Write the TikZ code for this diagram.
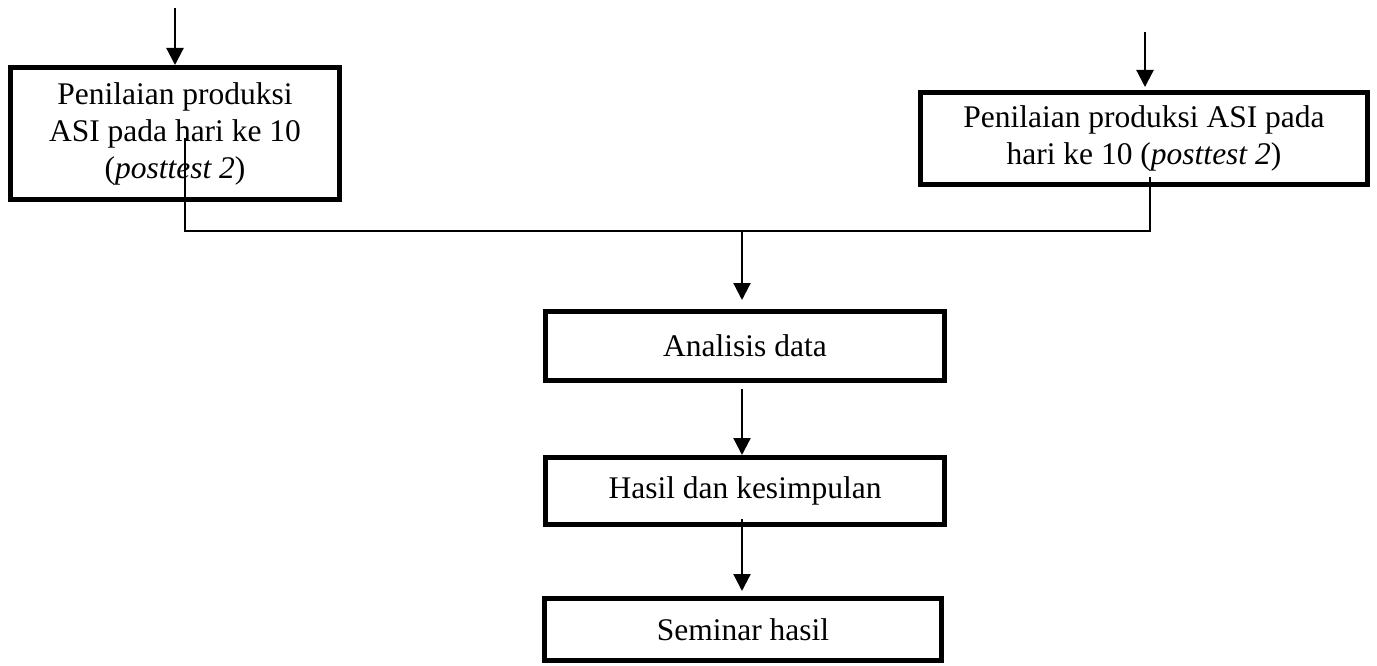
\documentclass[tikz,border=0pt]{standalone}
\usepackage{fontspec}
\setmainfont{Liberation Serif}
\usepackage{tikz}
\usetikzlibrary{positioning}
\usetikzlibrary{arrows.meta}
\tikzset{
    stepbox/.style = {rectangle, draw=black, line width=5pt, inner sep=0pt, align=center, font=\fontsize{31.5}{37}\selectfont},
    edgen/.style = {-{Triangle[length=17pt,width=17pt]}, line width=2.2pt},
    edgel/.style = {line width=1.8pt}
}
\begin{document}
\begin{tikzpicture}[x=1pt,y=1pt]
\useasboundingbox (0,0) rectangle (1377,-666);
%
\node[stepbox, minimum width=329pt, minimum height=132pt] at (175,-133.5) (pl) {Penilaian produksi\\ASI pada hari ke 10\\(\textit{posttest 2})};
\node[stepbox, minimum width=447pt, minimum height=92pt] at (1144,-138.5) (pr) {Penilaian produksi ASI pada\\hari ke 10 (\textit{posttest 2})};
\node[stepbox, minimum width=399pt, minimum height=69pt] at (745,-346) (ad) {Analisis data};
\node[stepbox, minimum width=399pt, minimum height=67pt] at (745,-491) (hk) {Hasil dan kesimpulan};
\node[stepbox, minimum width=397pt, minimum height=62pt] at (743,-629.5) (sh) {Seminar hasil};
%
\coordinate (lt) at (175,-8);
\coordinate (rt) at (1145,-32);
\coordinate (ls) at (185,-138);
\coordinate (rs) at (1150,-177);
\coordinate (rj) at (1150,-231);
\coordinate (cj) at (742,-231);
%
\draw[edgen] (lt) -- (lt |- pl.north);
\draw[edgen] (rt) -- ([yshift=3pt]rt |- pr.north);
\draw[edgel] (ls) |- (rj) -- (rs);
\draw[edgen] (cj) -- ([yshift=9pt]cj |- ad.north);
\draw[edgen] ([yshift=-6pt]ad.south -| cj) -- (cj |- hk.north);
\draw[edgen] ([yshift=8pt]hk.south -| cj) -- ([yshift=5pt]cj |- sh.north);
\end{tikzpicture}
\end{document}
